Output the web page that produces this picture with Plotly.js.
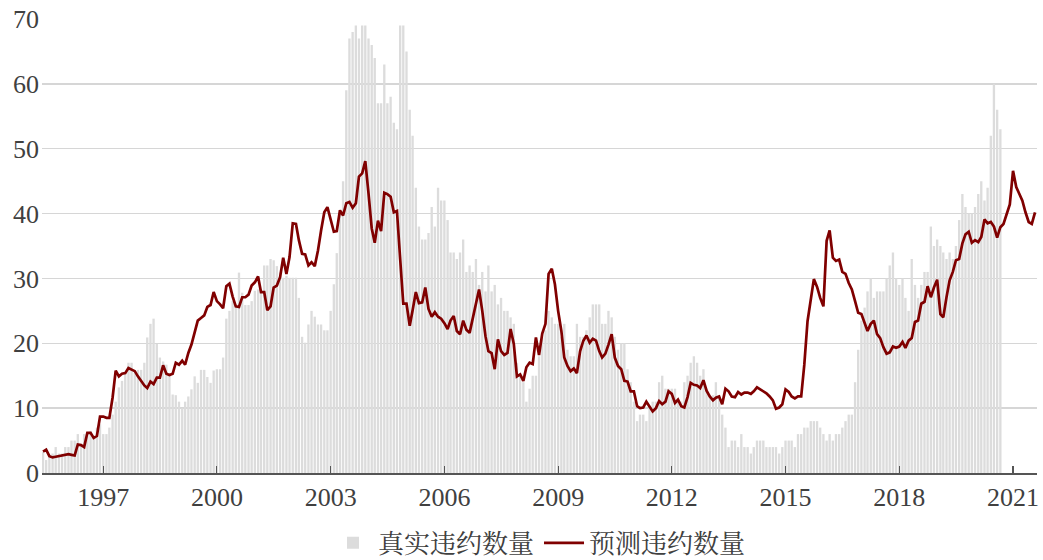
<!DOCTYPE html>
<html><head><meta charset="utf-8">
<script src="https://cdn.plot.ly/plotly-3.0.1.min.js"></script>
<style>html,body{margin:0;padding:0;background:#fff}</style>
</head><body><div id="chart" style="width:1043px;height:560px"></div>
<script>
// Monthly data starting June 1995
const startYear = 1995, startMonthIdx = 5;
const actualName = '真实违约数量';
const predictedName = '预测违约数量';
const actual = [
3.2,2.0,2.5,3.0,4.0,3.0,3.0,4.0,4.0,5.0,
5.0,6.0,4.5,6.0,6.0,6.5,5.5,7.0,7.5,6.0,
6.0,7.0,9.0,11.0,13.2,14.2,15.5,17.0,17.0,15.9,
15.9,15.9,17.0,20.9,23.0,23.8,19.9,17.8,17.2,16.7,
15.2,12.1,12.0,11.0,10.0,11.0,11.8,12.9,14.9,13.9,
15.9,15.9,14.8,13.9,15.8,16.0,16.0,17.8,23.8,25.0,
26.5,26.0,30.9,27.8,25.9,25.9,26.5,28.1,28.3,28.3,
32.0,32.0,33.0,32.8,31.9,30.9,30.1,30.4,30.1,30.1,
30.1,27.0,21.0,20.1,22.9,25.0,24.1,22.9,22.9,22.0,
22.0,25.0,29.1,33.9,40,45,59,67,68,69,
67,69,69,67,66,64,57,57,63,57,
58,54,53,69,69,65,56,52,44,38,
36,36,37,41,38,44,42,42,39,34,
34,33,34,36,31,32,31,33,29,31,
28,32,28,29,26,27,25,25,24,23,
17,15,14,11,13,15,15,18,21,22,
25,24,23,23,21,23,19,18,18,23,
21,21,22,24,26,26,26,23,23,25,
24,21,19,20,20,16,14,11,8,9,
9,8,10,11,11,14,15,13,13,13,
13,11,11,14,15,17,18,17,15,16,
13,12,12,14,12,9,7,4,5,5,
4,6,4,4,3,4,5,5,5,4,
4,4,4,3,4,5,5,5,4,6,
6,7,7,8,8,8,7,6,5,6,
5,6,6,7,8,9,9,14,19,23.5,
25.5,28,30,27,28,28,28,30,32,34,
30,29,30,27,25,33,29,27,29,31,
31,38,35,36,35,34,33,34,33,35,
39,43,41,40,40,41,43,45,42,44,
52,60,56,53
];
const predicted = [
3.3,3.6,2.6,2.4,2.5,2.6,2.7,2.9,2.9,2.8,
2.7,4.4,4.3,4.0,6.2,6.2,5.4,5.7,8.7,8.7,
8.5,8.5,11.6,15.8,14.9,15.3,15.4,16.2,15.9,15.7,
14.9,14.1,13.5,13.1,14.1,13.7,14.7,14.7,16.6,15.3,
15.1,15.3,17.0,16.7,17.3,16.7,18.5,19.8,21.9,23.5,
23.9,24.3,25.6,25.9,27.9,26.5,26.0,25.4,28.8,29.2,
27.2,25.7,25.6,27.1,27.1,27.5,28.9,29.4,30.3,27.9,
27.9,25.1,25.7,28.6,28.9,30.2,33.2,30.7,33.3,38.5,
38.4,35.9,33.8,33.7,32.0,32.5,31.9,34.3,37.4,40.2,
41.0,39.1,37.2,37.3,40.5,39.7,41.6,41.8,40.9,41.6,
45.7,46.2,48.1,43.1,37.7,35.5,38.9,37.3,43.2,43.0,
42.6,40.2,40.4,33.0,26.1,26.1,22.7,25.1,27.9,26.2,
26.3,28.6,25.3,24.1,24.8,24.1,23.8,23.1,22.2,23.5,
24.2,21.9,21.4,23.5,22.1,21.6,23.7,25.7,28.3,25.0,
21.1,18.8,18.5,16.0,20.6,18.8,18.2,18.5,22.2,19.9,
14.9,15.2,14.2,16.3,17.0,16.8,20.9,18.2,21.5,23.0,
30.7,31.5,29.1,25.0,21.9,17.8,16.5,15.7,16.1,15.4,
18.8,20.4,21.2,20.1,20.7,20.4,18.8,17.8,18.4,19.8,
21.4,17.8,16.5,16.0,14.2,14.1,12.6,12.6,10.3,10.0,
10.1,11.0,10.3,9.5,10.0,11.1,10.6,11.0,12.6,12.2,
10.8,11.3,10.3,10.1,11.7,13.9,13.6,13.5,13.1,14.3,
12.7,11.8,11.2,11.6,11.8,10.6,13.0,12.6,11.8,11.7,
12.5,12.1,12.4,12.4,12.2,12.6,13.2,12.9,12.7,12.3,
11.8,11.2,9.9,10.1,10.6,12.9,12.5,11.8,11.5,11.8,
11.8,16.7,23.4,27.0,29.9,28.7,27.0,25.7,35.8,37.4,
33.2,32.7,32.9,31.0,30.7,29.3,28.3,26.5,24.7,24.5,
23.0,21.9,23.0,23.5,21.4,20.8,19.4,18.4,18.6,19.5,
19.3,19.5,20.2,19.3,20.4,20.8,23.3,23.5,26.1,26.4,
28.8,27.1,28.6,29.8,24.5,24.0,27.1,29.7,31.0,32.8,
33.0,35.4,36.8,37.2,35.5,35.9,35.6,36.4,39.1,38.5,
38.7,38.0,36.3,37.9,38.4,39.9,41.4,46.6,44.1,43.1,
42.0,40.2,38.7,38.4,40.2
];
const tickYears = ['1997','2000','2003','2006','2009','2012','2015','2018','2021'];

function monthDates(n){
  const out=[];
  for(let k=0;k<n;k++){
    const t=startMonthIdx+k;
    const y=startYear+Math.floor(t/12);
    const m=t%12+1;
    out.push(y+'-'+String(m).padStart(2,'0')+'-01');
  }
  return out;
}

const fontFam = '"Liberation Serif", "Times New Roman", "Noto Serif CJK SC", "Noto Sans CJK SC", serif';
const textColor = '#404040';

const traces = [
  {type:'bar', name:actualName, x:monthDates(actual.length), y:actual,
   marker:{color:'#dcdcdc', line:{width:0}}, hoverinfo:'x+y'},
  {type:'scatter', mode:'lines', name:predictedName, x:monthDates(predicted.length), y:predicted,
   line:{color:'#800000', width:2.7}}
];

const layout = {
  width:1043, height:560,
  margin:{l:42, r:6, t:19, b:87, autoexpand:false},
  paper_bgcolor:'#ffffff', plot_bgcolor:'#ffffff',
  font:{family:fontFam, size:26, color:textColor},
  bargap:0.2,
  showlegend:true,
  legend:{orientation:'h', x:0.5, xanchor:'center', y:-0.154, yanchor:'middle',
          font:{family:fontFam, size:26, color:textColor}, itemwidth:40, traceorder:'normal'},
  xaxis:{type:'date', range:['1995-05-22','2021-08-20'],
         tickmode:'array', tickvals:tickYears.map(y=>y+'-01-01'), ticktext:tickYears,
         ticks:'inside', ticklen:7, tickwidth:1.2, tickcolor:'#555555',
         showline:true, linecolor:'#555555', linewidth:1.5,
         showgrid:false, zeroline:false,
         tickfont:{family:fontFam, size:26, color:textColor}},
  yaxis:{range:[0,70], tickmode:'array', tickvals:[0,10,20,30,40,50,60,70],
         showgrid:true, gridcolor:'#d6d6d6', gridwidth:1.3,
         zeroline:false, showline:false, ticks:'',
         tickfont:{family:fontFam, size:26, color:textColor}, ticklabelstandoff:2}
};

Plotly.newPlot('chart', traces, layout, {displayModeBar:false, staticPlot:true});
</script>
</body></html>
